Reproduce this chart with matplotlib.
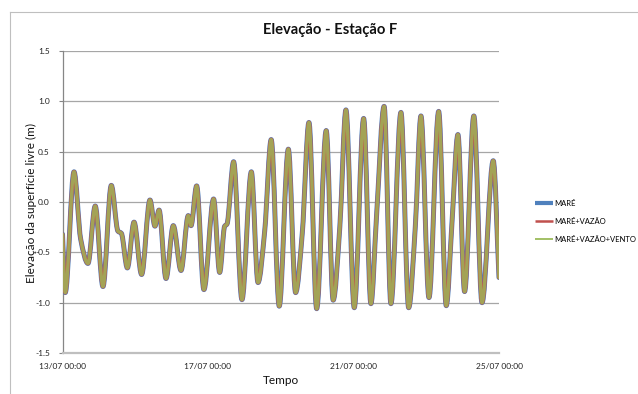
import numpy as np
import matplotlib
matplotlib.use("Agg")
import matplotlib.pyplot as plt
from matplotlib.path import Path
from matplotlib.patches import PathPatch
from matplotlib.lines import Line2D

plt.rcParams['font.family'] = ['Lato', 'DejaVu Sans']

# Hours since 13/07 00:00 and free-surface elevation (m) at turning points
hours = [0, 1.8, 7.6, 12.0, 16.8, 21.6, 26.7, 32.2, 36.6, 38.8, 42.8, 47.2,
         52.2, 57.7, 61.0, 63.7, 68.3, 73.1, 78.2, 83.0, 84.8, 88.5, 93.3,
         99.7, 103.7, 107.0, 108.5, 112.9, 118.4, 124.6, 129.0, 133.4, 137.7,
         143.0, 149.0, 153.8, 158.2, 162.6, 167.7, 174.0, 178.6, 183.0, 187.0,
         192.5, 198.7, 203.5, 207.2, 212.2, 216.7, 223.3, 228.4, 232.8, 236.5,
         241.8, 248.2, 253.2, 257.0, 260.9, 265.3, 271.4, 276.8, 284.2, 288.0]
mare = [-0.32, -0.90, 0.30, -0.37, -0.61, -0.04, -0.84, 0.165, -0.29, -0.31,
        -0.655, -0.20, -0.72, 0.02, -0.24, -0.08, -0.76, -0.235, -0.68,
        -0.135, -0.235, 0.16, -0.87, 0.03, -0.70, -0.24, -0.22, 0.40, -0.97,
        0.30, -0.80, -0.29, 0.62, -1.035, 0.525, -0.90, -0.31, 0.79, -1.06,
        0.71, -0.975, -0.24, 0.915, -1.05, 0.83, -1.01, -0.14, 0.95, -1.01,
        0.89, -1.05, -0.24, 0.855, -0.95, 0.90, -1.03, -0.20, 0.67, -0.89,
        0.855, -1.00, 0.41, -0.75]
mare_vazao = list(mare)
mare_vazao_vento = list(mare)

tick_hours = [0, 96, 192, 288]
tick_labels = ["13/07 00:00", "17/07 00:00", "21/07 00:00", "25/07 00:00"]
y_ticks = [-1.5, -1.0, -0.5, 0.0, 0.5, 1.0, 1.5]


def smooth_path(x, y):
    """Piecewise cubic (monotone Hermite) Bezier path through the points."""
    x = np.asarray(x, float)
    y = np.asarray(y, float)
    h = np.diff(x)
    d = np.diff(y) / h
    m = np.zeros_like(y)
    for i in range(1, len(y) - 1):
        if d[i - 1] * d[i] > 0:
            w1 = 2 * h[i] + h[i - 1]
            w2 = h[i] + 2 * h[i - 1]
            m[i] = (w1 + w2) / (w1 / d[i - 1] + w2 / d[i])
    m[0] = d[0]
    m[-1] = d[-1]
    verts = [(x[0], y[0])]
    codes = [Path.MOVETO]
    for i in range(len(x) - 1):
        verts += [(x[i] + h[i] / 3, y[i] + m[i] * h[i] / 3),
                  (x[i + 1] - h[i] / 3, y[i + 1] - m[i + 1] * h[i] / 3),
                  (x[i + 1], y[i + 1])]
        codes += [Path.CURVE4] * 3
    return Path(verts, codes)


fig = plt.figure(figsize=(6.38, 3.94), dpi=100)
ax = fig.add_axes([62.5 / 638, 41 / 394, (499 - 62.5) / 638, 302 / 394])

# (label, values, colour, line width, legend line width, opacity)
series = [
    ("MARÉ", mare, "#4F81BD", 3.6, 3.0, 1.0),
    ("MARÉ+VAZÃO", mare_vazao, "#C0504D", 2.9, 1.8, 1.0),
    ("MARÉ+VAZÃO+VENTO", mare_vazao_vento, "#9BBB59", 2.4, 1.3, 0.78),
]
handles = []
for label, vals, color, lw, lw_leg, alpha in series:
    patch = PathPatch(smooth_path(hours, vals), fill=False, edgecolor=color,
                      lw=lw, alpha=alpha, capstyle='round',
                      joinstyle='round', zorder=3)
    ax.add_patch(patch)
    handles.append(Line2D([], [], color=color, lw=lw_leg,
                          solid_capstyle='butt'))

ax.set_xlim(0, 288)
ax.set_ylim(-1.5, 1.5)
ax.set_yticks(y_ticks)
ax.set_yticklabels([f"{v:.1f}" for v in y_ticks])
ax.set_xticks(tick_hours)
ax.set_xticklabels(tick_labels)
ax.tick_params(axis='y', length=3, width=0.8, color='#868686', pad=6,
               labelsize=6, labelcolor='#222222')
ax.tick_params(axis='x', length=0, pad=7, labelsize=6, labelcolor='#222222')
ax.grid(axis='y', color='#a6a6a6', lw=0.9)
ax.set_axisbelow(True)
for side in ('top', 'right'):
    ax.spines[side].set_visible(False)
ax.spines['left'].set_color('#868686')
ax.spines['left'].set_linewidth(0.9)
ax.spines['bottom'].set_color('#bfbfbf')
ax.spines['bottom'].set_linewidth(1.6)

fig.text(330 / 638, 1 - 30 / 394, "Elevação - Estação F", ha='center',
         va='center', fontsize=10.6, fontweight='bold', color='#111111')
fig.text(281 / 638, 1 - 381 / 394, "Tempo", ha='center', va='center',
         fontsize=8.5, color='#111111')
fig.text(31 / 638, 1 - 203 / 394, "Elevação da superfície livre (m)",
         ha='center', va='center', rotation=90, fontsize=8.5, color='#111111')

fig.legend(handles, [s[0] for s in series], loc='upper left',
           bbox_to_anchor=(535 / 638, 1 - 199.5 / 394), frameon=False,
           fontsize=5.5, handlelength=2.4, handletextpad=0.1,
           labelspacing=1.45, borderpad=0, borderaxespad=0)

# Chart area border
fig.add_artist(Line2D([9.5 / 638, 9.5 / 638], [0, 1 - 12 / 394],
                      transform=fig.transFigure, color='#bfbfbf', lw=0.8))
fig.add_artist(Line2D([9.5 / 638, 1], [1 - 12 / 394, 1 - 12 / 394],
                      transform=fig.transFigure, color='#bfbfbf', lw=0.8))

fig.savefig("out.png", dpi=100)
